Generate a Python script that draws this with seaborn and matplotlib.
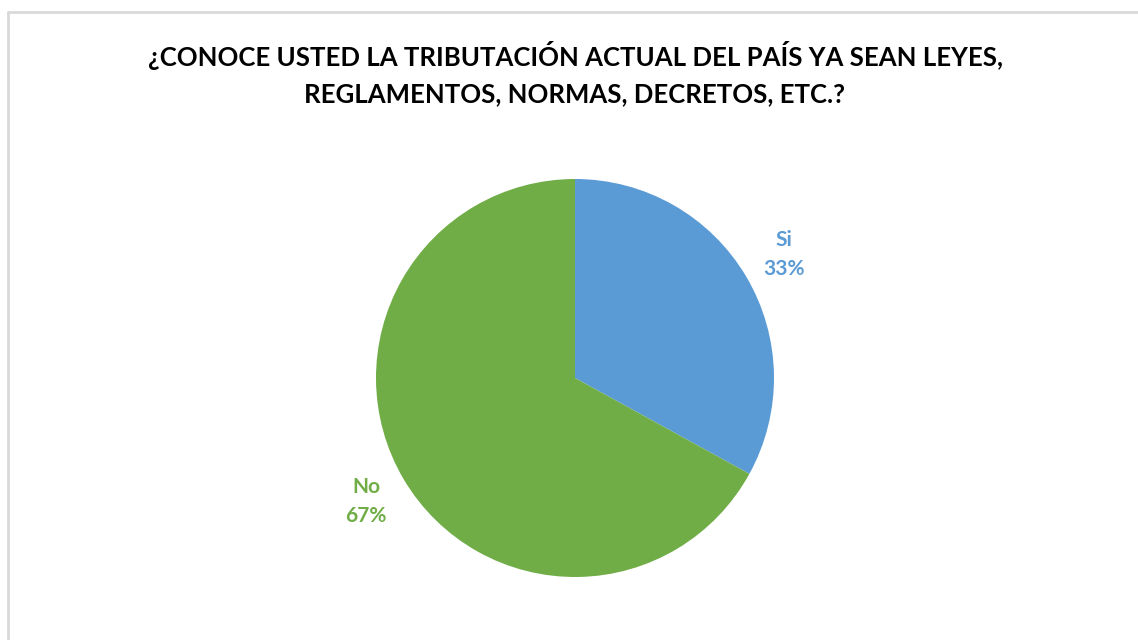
import matplotlib
matplotlib.use("Agg")
import matplotlib.pyplot as plt
import seaborn as sns
import numpy as np
from matplotlib.lines import Line2D

# ── Data ───────────────────────────────────────────────────────────────────────
categories = ["Si", "No"]
percentages = [33, 67]
colors = ["#5B9BD5", "#70AD47"]
title = "¿CONOCE USTED LA TRIBUTACIÓN ACTUAL DEL PAÍS YA SEAN LEYES,\nREGLAMENTOS, NORMAS, DECRETOS, ETC.?"

# ── Style ──────────────────────────────────────────────────────────────────────
sns.set_theme(style="white")
plt.rcParams['font.family'] = ['Lato', 'DejaVu Sans']

W, H = 1138, 640
fig = plt.figure(figsize=(W / 100, H / 100), dpi=100)

# figure frame (light gray, clipped at right/bottom like the screenshot)
fig.add_artist(Line2D([8 / W, 8 / W], [0, 1 - 12 / H], transform=fig.transFigure,
                      color="#D9D9D9", lw=2))
fig.add_artist(Line2D([8 / W, 1], [1 - 12 / H, 1 - 12 / H], transform=fig.transFigure,
                      color="#D9D9D9", lw=2))

# pie axes: center (575, 378), radius ~199 px
cx, cy, r = 575, 378, 199
ax = fig.add_axes([(cx - r) / W, 1 - (cy + r) / H, 2 * r / W, 2 * r / H])
wedges, _ = ax.pie(percentages, colors=colors, startangle=90, counterclock=False,
                   radius=1.0, wedgeprops=dict(linewidth=0))
ax.set_xlim(-1, 1)
ax.set_ylim(-1, 1)
ax.set_aspect("equal")
ax.axis("off")

# data labels outside wedges
for w, cat, pct, col in zip(wedges, categories, percentages, colors):
    ang = np.deg2rad((w.theta1 + w.theta2) / 2)
    x, y = 1.22 * np.cos(ang), 1.22 * np.sin(ang)
    ax.text(x, y, f"{cat}\n{pct}%", ha="center", va="center", color=col,
            fontsize=15, fontweight="bold", linespacing=1.6)

fig.text(cx / W, 1 - 74 / H, title, ha="center", va="center", fontsize=18.5,
         fontweight="bold", color="#000000", linespacing=1.6)

fig.savefig("out.png", dpi=100, facecolor="white")
